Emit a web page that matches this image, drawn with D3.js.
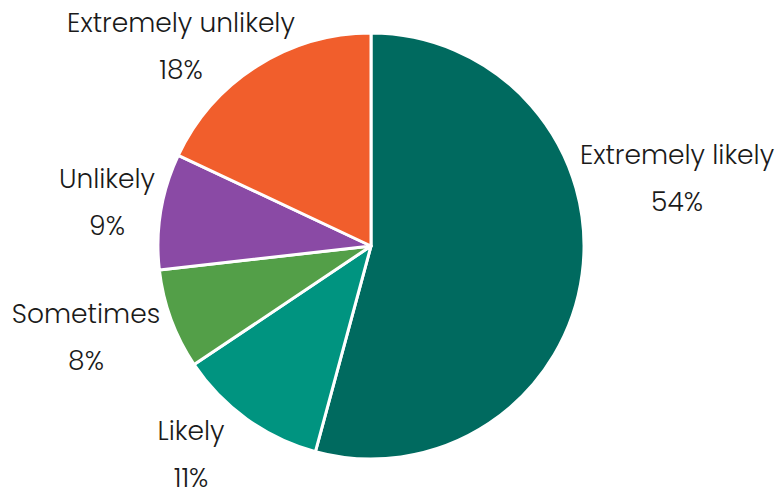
<!DOCTYPE html>
<html>
<head>
<meta charset="utf-8">
<script src="https://cdn.jsdelivr.net/npm/d3@7"></script>
<style>
  body { margin: 0; background: #fff; }
  text { font-family: "Poppins", "Open Sans", sans-serif; font-weight: 300; fill: #1a1a1a; }
</style>
</head>
<body>
<div id="chart"></div>
<script>
var categories = ["Extremely likely", "Likely", "Sometimes", "Unlikely", "Extremely unlikely"];
var values = [54.2, 11.4, 7.6, 8.8, 18.0];
var colors = ["#006a5f", "#009480", "#539f48", "#8a4aa5", "#f15e2c"];
// label block centres, relative to the pie centre
var labelOffsets = [[306, -67], [-180, 209], [-285, 92], [-264, -43], [-190, -199]];

var width = 776, height = 490;
var cx = 371, cy = 246, radius = 213;

var svg = d3.select("#chart")
  .append("svg")
    .attr("width", width)
    .attr("height", height)
  .append("g")
    .attr("transform", "translate(" + cx + "," + cy + ")");

var data = categories.map(function(c, i) { return {name: c, value: values[i], color: colors[i], i: i}; });

var pie = d3.pie()
  .sort(null)
  .value(function(d) { return d.value; });

var arc = d3.arc()
  .innerRadius(0)
  .outerRadius(radius);

svg.selectAll("path")
  .data(pie(data))
  .enter()
  .append("path")
    .attr("d", arc)
    .attr("fill", function(d) { return d.data.color; })
    .attr("stroke", "#fff")
    .attr("stroke-width", 3)
    .attr("stroke-linejoin", "round");

var labels = svg.selectAll("g.label")
  .data(data)
  .enter()
  .append("g")
    .attr("class", "label")
    .attr("transform", function(d) { return "translate(" + labelOffsets[d.i][0] + "," + labelOffsets[d.i][1] + ")"; });

labels.append("text")
  .attr("text-anchor", "middle")
  .attr("y", -15)
  .style("font-size", "26.5px")
  .text(function(d) { return d.name; });

labels.append("text")
  .attr("text-anchor", "middle")
  .attr("y", 32)
  .style("font-size", "26.5px")
  .text(function(d) { return Math.round(d.value) + "%"; });
</script>
</body>
</html>
